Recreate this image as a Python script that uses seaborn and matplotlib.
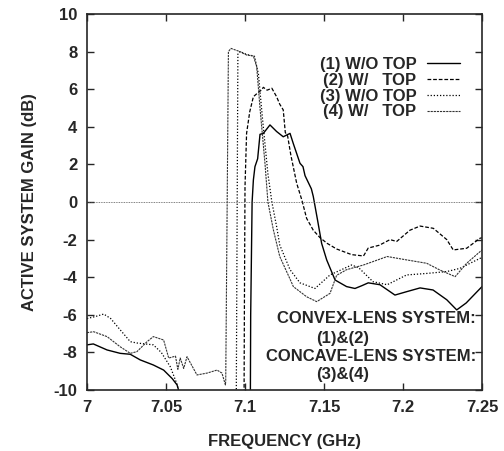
import numpy as np
import pandas as pd
import matplotlib
matplotlib.use("Agg")
import matplotlib.pyplot as plt
import seaborn as sns

# ---- data ----
freq1 = [7.0, 7.004, 7.0127, 7.021, 7.0274, 7.0337, 7.042, 7.0485, 7.054, 7.057, 7.059, 7.08, 7.1034,
         7.1036, 7.1045, 7.1053, 7.1063, 7.108, 7.1095, 7.1116, 7.1158, 7.12, 7.1242, 7.1285, 7.1306,
         7.1348, 7.1367, 7.138, 7.142, 7.1432, 7.146, 7.1485, 7.1517, 7.157, 7.1643, 7.1696, 7.174,
         7.178, 7.1854, 7.1949, 7.2023, 7.2108, 7.219, 7.2277, 7.234, 7.240, 7.25]
gain1 = [-7.6, -7.55, -7.87, -8.05, -8.1, -8.4, -8.67, -8.94, -9.4, -9.73, -10.3, -10.5, -10.3,
         -6.0, 0.0, 1.17, 1.88, 2.3, 3.6, 3.65, 4.1, 3.75, 3.47, 3.65, 3.1,
         2.06, 1.88, 1.4, 0.7, 0.3, -1.0, -2.2, -3.08, -4.15, -4.5, -4.6, -4.45,
         -4.3, -4.4, -4.95, -4.77, -4.57, -4.68, -5.2, -5.74, -5.37, -4.5]

freq2 = [7.0, 7.0994, 7.0996, 7.1, 7.101, 7.103, 7.1053, 7.108, 7.1105, 7.1116, 7.114, 7.117, 7.12,
         7.122, 7.1242, 7.1255, 7.127, 7.129, 7.1327, 7.136, 7.139, 7.1432, 7.1475, 7.152, 7.158,
         7.1675, 7.175, 7.178, 7.185, 7.1918, 7.196, 7.2044, 7.2108, 7.2192, 7.2277, 7.2318,
         7.2403, 7.2487, 7.25]
gain2 = [-10.5, -10.5, -6.0, 0.8, 3.65, 4.8, 5.6, 5.8, 5.96, 6.1, 5.95, 6.05, 5.6,
         5.2, 4.9, 3.7, 3.5, 2.5, 1.0, 0.1, -0.87, -1.5, -1.9, -2.2, -2.5,
         -2.8, -2.87, -2.45, -2.3, -2.0, -2.1, -1.5, -1.28, -1.4, -2.0, -2.55,
         -2.46, -1.93, -1.9]

freq3 = [7.0, 7.005, 7.0106, 7.015, 7.02, 7.0274, 7.0316, 7.037, 7.042, 7.047, 7.0527, 7.057, 7.059,
         7.094, 7.0945, 7.0955, 7.0968, 7.101, 7.106, 7.1085, 7.111, 7.1145, 7.117, 7.12, 7.122,
         7.1285, 7.1348, 7.1443, 7.1538, 7.1675, 7.172, 7.181, 7.19, 7.2023, 7.215, 7.2277,
         7.236, 7.2487, 7.25]
gain3 = [-6.2, -6.1, -5.96, -6.2, -6.7, -7.43, -7.5, -7.55, -7.6, -8.0, -8.76, -9.7, -10.4,
         -10.4, -10.0, 7.9, 8.0, 7.85, 7.75, 6.8, 4.5, 1.5, 0.0, -1.3, -2.29,
         -3.6, -4.3, -4.6, -3.88, -3.35, -3.5, -4.24, -4.4, -3.88, -3.8, -3.7,
         -3.53, -3.0, -2.95]

freq4 = [7.0, 7.0042, 7.0127, 7.021, 7.0274, 7.0316, 7.038, 7.042, 7.0485, 7.0517, 7.056, 7.0575,
         7.059, 7.0612, 7.0633, 7.0696, 7.076, 7.0823, 7.0854, 7.0876, 7.0878, 7.0895, 7.0911,
         7.0968, 7.101, 7.1053, 7.1074, 7.1095, 7.1127, 7.1145, 7.118, 7.122, 7.1285, 7.1306,
         7.139, 7.1454, 7.1538, 7.158, 7.1643, 7.175, 7.19, 7.2023, 7.215, 7.2234, 7.233,
         7.2403, 7.25]
gain4 = [-6.95, -6.9, -7.16, -7.7, -8.05, -7.96, -7.43, -7.16, -7.34, -8.3, -8.2, -8.9,
         -8.3, -8.85, -8.23, -9.2, -9.1, -8.94, -9.1, -9.73, -9.5, 8.0, 8.17,
         8.0, 7.82, 7.77, 7.2, 5.0, 2.0, 0.0, -1.5, -2.9, -4.1, -4.5,
         -5.04, -5.3, -4.86, -3.9, -3.6, -3.35, -2.9, -3.08, -3.26, -3.62, -3.97,
         -3.26, -2.55]

labels = ["(1) W/O TOP", "(2) W/   TOP", "(3) W/O TOP", "(4) W/   TOP"]
x_ticks = [7, 7.05, 7.1, 7.15, 7.2, 7.25]
x_ticklabels = ["7", "7.05", "7.1", "7.15", "7.2", "7.25"]
y_ticks = [-10, -8, -6, -4, -2, 0, 2, 4, 6, 8, 10]

sns.set_style("ticks")
plt.rcParams['font.family'] = ['Liberation Sans', 'DejaVu Sans']
plt.rcParams['font.weight'] = 'bold'
plt.rcParams['axes.unicode_minus'] = False

fig = plt.figure(figsize=(5.04, 4.51), dpi=100)
ax = fig.add_axes([87/504, 1 - 390/451, (482 - 87)/504, (390 - 14)/451])

styles = [
    dict(linestyle='-', linewidth=1.0, color='black'),
    dict(linestyle=(0, (3, 1.5)), linewidth=0.9, color='black'),
    dict(linestyle=(0, (1, 1.5)), linewidth=0.9, color='black'),
    dict(linestyle=(0, (2, 0.8)), linewidth=0.8, color='#333333'),
]

for f, g, lab, st in zip([freq1, freq2, freq3, freq4], [gain1, gain2, gain3, gain4], labels, styles):
    df = pd.DataFrame({"freq": f, "gain": g})
    sns.lineplot(data=df, x="freq", y="gain", ax=ax, sort=False, estimator=None,
                 label=lab, **st)

ax.axhline(0, linestyle=(0, (1, 1)), linewidth=0.6, color='#555555')

ax.set_xlim(7, 7.25)
ax.set_ylim(-10, 10)
ax.set_xticks(x_ticks)
ax.set_xticklabels(x_ticklabels)
ax.set_yticks(y_ticks)
ax.tick_params(direction='in', length=5, width=1, top=True, right=True,
               labelsize=12, pad=7)
for t in ax.get_xticklabels() + ax.get_yticklabels():
    t.set_fontweight('bold')
for s in ax.spines.values():
    s.set_linewidth(1.2)

ax.set_xlabel("FREQUENCY (GHz)", fontsize=12, fontweight='bold', labelpad=14)
ax.set_ylabel("ACTIVE SYSTEM GAIN (dB)", fontsize=12, fontweight='bold', labelpad=12)

leg = ax.legend(loc='upper right', bbox_to_anchor=(0.944, 0.886), frameon=False,
                markerfirst=False, handlelength=2.0, handletextpad=0.6,
                labelspacing=0.05, borderpad=0.0, borderaxespad=0.0,
                prop=dict(size=12, weight='bold'))

ax.text(0.985, 0.191, "CONVEX-LENS SYSTEM:", transform=ax.transAxes, ha='right', va='center',
        fontsize=12, fontweight='bold')
ax.text(0.647, 0.138, "(1)&(2)", transform=ax.transAxes, ha='center', va='center',
        fontsize=12, fontweight='bold')
ax.text(0.985, 0.0886, "CONCAVE-LENS SYSTEM:", transform=ax.transAxes, ha='right', va='center',
        fontsize=12, fontweight='bold')
ax.text(0.647, 0.04, "(3)&(4)", transform=ax.transAxes, ha='center', va='center',
        fontsize=12, fontweight='bold')

fig.savefig("out.png", dpi=100)
